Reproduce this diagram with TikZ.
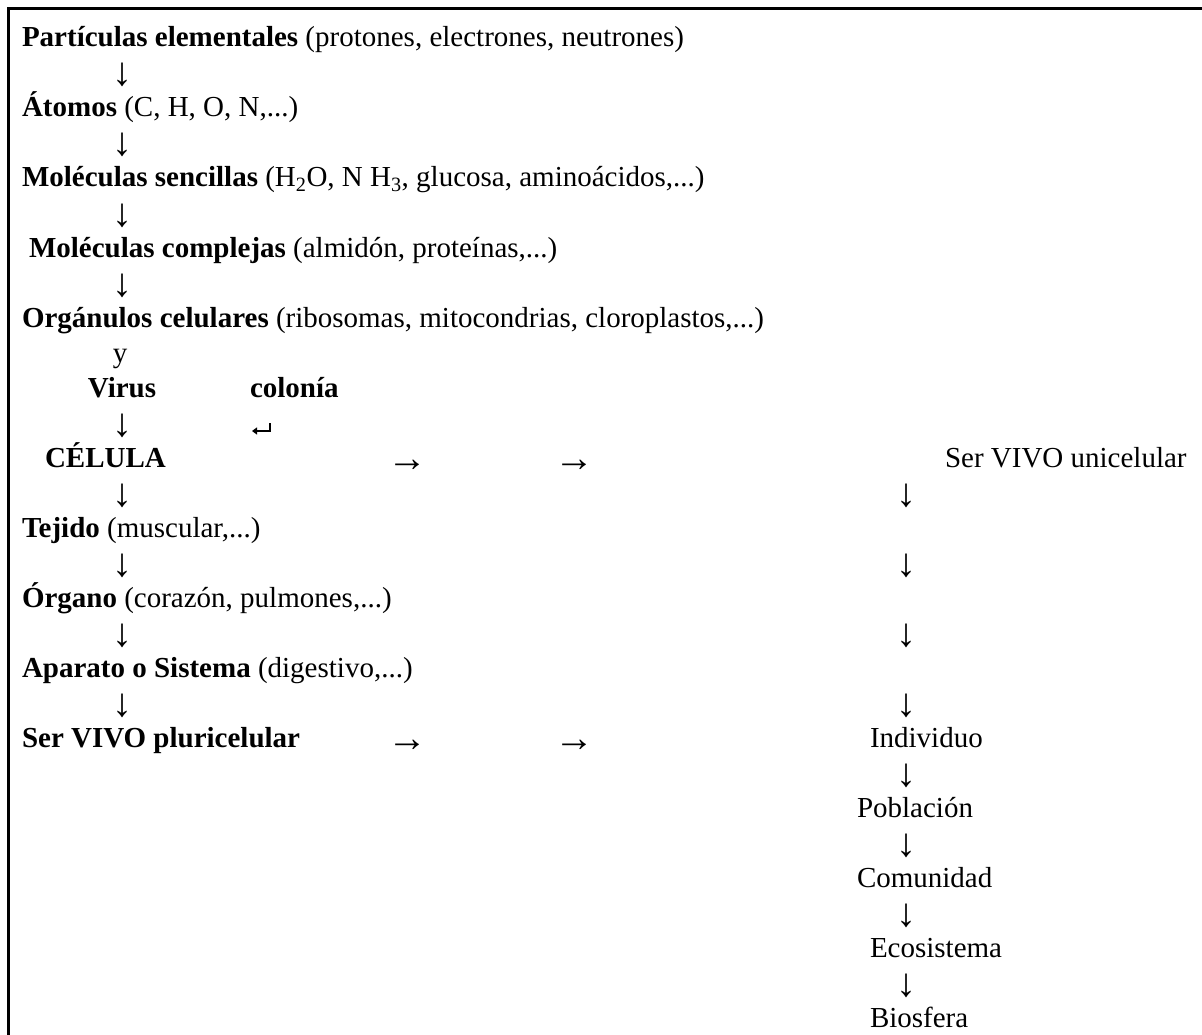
\documentclass[tikz,border=0pt]{standalone}
\usepackage{fontspec}
\setmainfont{Liberation Serif}
\usepackage{tikz}
\usetikzlibrary{arrows.meta,positioning}

\begin{document}
\begin{tikzpicture}[
    x=1pt, y=1pt,
    font=\fontsize{29}{35}\selectfont,
    txt/.style={inner sep=0pt, outer sep=0pt, anchor=base west},
    dn/.style={inner sep=0pt, outer sep=0pt, anchor=base},
    arr/.style={dn, font=\fontsize{40}{40}\selectfont, yshift=-4pt},
    frame/.style={line width=3pt},
    back/.style={line width=2.2pt, -{Triangle[length=5pt,width=7pt]}}
]
    \useasboundingbox (0,0) rectangle (1202,-1035);
    \draw[frame] (8,-1035) -- (8,-8.5) -- (1202,-8.5);

    % Left column
    \node[txt] (part) at (22,-47) {\textbf{Partículas elementales} (protones, electrones, neutrones)};
    \node[below right=35pt and 100pt of part.base west, arr] (d1) {↓};
    \node[below=70pt of part.base west, txt] (atom) {\textbf{Átomos} (C, H, O, N,...)};
    \node[below right=35pt and 100pt of atom.base west, arr] (d2) {↓};
    \node[below=70pt of atom.base west, txt] (sen) {\textbf{Moléculas sencillas} (H\textsubscript{2}O, N H\textsubscript{3}, glucosa, aminoácidos,...)};
    \node[below right=35pt and 100pt of sen.base west, arr] (d3) {↓};
    \node[below right=70pt and 7pt of sen.base west, txt] (comp) {\textbf{Moléculas complejas} (almidón, proteínas,...)};
    \node[below right=105pt and 100pt of sen.base west, arr] (d4) {↓};
    \node[below=140pt of sen.base west, txt] (org) {\textbf{Orgánulos celulares} (ribosomas, mitocondrias, cloroplastos,...)};

    % Virus and colonia
    \node[below right=35pt and 98pt of org.base west, dn] (y) {y};
    \node[below right=70pt and 100pt of org.base west, dn] (vir) {\textbf{Virus}};
    \node[below right=70pt and 228pt of org.base west, txt] (col) {\textbf{colonía}};
    \node[below=35pt of vir.base, arr] (d5) {↓};
    \coordinate[below right=26pt and 20pt of col.base west] (ret);
    \draw[back] (ret) |- ++(-18,-8);

    \node[below right=140pt and 23pt of org.base west, txt] (cel) {\textbf{CÉLULA}};
    \node[right=362pt of cel.base west, arr] (r1) {→};
    \node[right=529pt of cel.base west, arr] (r2) {→};
    \node[right=900pt of cel.base west, txt] (uni) {Ser VIVO unicelular};
    \node[below right=35pt and 77pt of cel.base west, arr] (d6) {↓};
    \node[below left=35pt and 39pt of uni.base west, arr] (u1) {↓};

    \node[below left=70pt and 23pt of cel.base west, txt] (tej) {\textbf{Tejido} (muscular,...)};
    \node[below right=35pt and 100pt of tej.base west, arr] (d7) {↓};
    \node[below right=35pt and 884pt of tej.base west, arr] (u2) {↓};
    \node[below=70pt of tej.base west, txt] (orga) {\textbf{Órgano} (corazón, pulmones,...)};
    \node[below right=35pt and 100pt of orga.base west, arr] (d8) {↓};
    \node[below right=35pt and 884pt of orga.base west, arr] (u3) {↓};
    \node[below=70pt of orga.base west, txt] (apa) {\textbf{Aparato o Sistema} (digestivo,...)};
    \node[below right=35pt and 100pt of apa.base west, arr] (d9) {↓};
    \node[below right=35pt and 884pt of apa.base west, arr] (u4) {↓};
    \node[below=70pt of apa.base west, txt] (plu) {\textbf{Ser VIVO pluricelular}};
    \node[right=385pt of plu.base west, arr] (r3) {→};
    \node[right=552pt of plu.base west, arr] (r4) {→};

    % Right column
    \node[right=848pt of plu.base west, txt] (ind) {Individuo};
    \node[below right=35pt and 36pt of ind.base west, arr] (u5) {↓};
    \node[below left=70pt and 13pt of ind.base west, txt] (pob) {Población};
    \node[below right=35pt and 49pt of pob.base west, arr] (u6) {↓};
    \node[below=70pt of pob.base west, txt] (com) {Comunidad};
    \node[below right=35pt and 49pt of com.base west, arr] (u7) {↓};
    \node[below right=70pt and 13pt of com.base west, txt] (eco) {Ecosistema};
    \node[below right=35pt and 36pt of eco.base west, arr] (u8) {↓};
    \node[below=70pt of eco.base west, txt] (bio) {Biosfera};
\end{tikzpicture}
\end{document}
